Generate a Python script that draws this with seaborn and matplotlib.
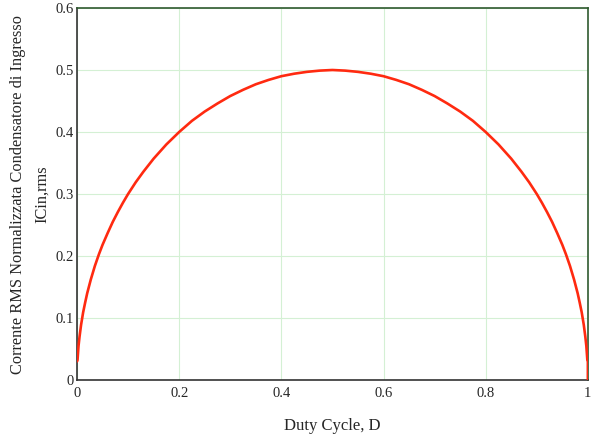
import matplotlib
matplotlib.use("Agg")
import matplotlib.pyplot as plt
import seaborn as sns
import pandas as pd

# values
duty = [0.0, 0.001, 0.003, 0.005, 0.008, 0.012, 0.016, 0.02, 0.027, 0.035, 0.043, 0.05,
        0.06, 0.07, 0.08, 0.09, 0.1, 0.115, 0.13, 0.15, 0.175, 0.2, 0.225, 0.25,
        0.275, 0.3, 0.325, 0.35, 0.375, 0.4, 0.425, 0.45, 0.475, 0.5, 0.525, 0.55,
        0.575, 0.6, 0.625, 0.65, 0.675, 0.7, 0.725, 0.75, 0.775, 0.8, 0.825, 0.85,
        0.87, 0.885, 0.9, 0.91, 0.92, 0.93, 0.94, 0.95, 0.957, 0.965, 0.973, 0.98,
        0.984, 0.988, 0.992, 0.995, 0.997, 0.999, 1.0, 1.0]
icin = [0.03, 0.032, 0.055, 0.07, 0.089, 0.109, 0.125, 0.14, 0.162, 0.184, 0.203, 0.218,
        0.237, 0.255, 0.271, 0.286, 0.3, 0.319, 0.336, 0.357, 0.38, 0.4, 0.418, 0.433,
        0.446, 0.458, 0.468, 0.477, 0.484, 0.49, 0.494, 0.497, 0.499, 0.5, 0.499, 0.497,
        0.494, 0.49, 0.484, 0.477, 0.468, 0.458, 0.446, 0.433, 0.418, 0.4, 0.38, 0.357,
        0.336, 0.319, 0.3, 0.286, 0.271, 0.255, 0.237, 0.218, 0.203, 0.184, 0.162, 0.14,
        0.125, 0.109, 0.089, 0.07, 0.055, 0.032, 0.03, 0.0]

xticks = [0, 0.2, 0.4, 0.6, 0.8, 1]
xtick_labels = ["0", "0.2", "0.4", "0.6", "0.8", "1"]
yticks = [0, 0.1, 0.2, 0.3, 0.4, 0.5, 0.6]
ytick_labels = ["0", "0.1", "0.2", "0.3", "0.4", "0.5", "0.6"]

df = pd.DataFrame({"D": duty, "I": icin})

sns.set_style("white")
plt.rcParams["font.family"] = ["Liberation Serif", "DejaVu Serif"]

fig = plt.figure(figsize=(5.95, 4.37), dpi=100)
ax = fig.add_axes([0.1294, 0.1304, 0.8586, 0.8513])

sns.lineplot(data=df, x="D", y="I", sort=False, color="#ff2a10", linewidth=1.9,
             ax=ax, estimator=None, zorder=3)

ax.set_xlim(0, 1)
ax.set_ylim(0, 0.6)
ax.set_xticks(xticks)
ax.set_xticklabels(xtick_labels, fontsize=10.5)
ax.set_yticks(yticks)
ax.set_yticklabels(ytick_labels, fontsize=10.5)
ax.tick_params(axis="y", length=0, pad=2)
ax.tick_params(axis="x", length=0, pad=5)
ax.grid(True, color="#d4f0d4", linewidth=0.8)

for side in ["top", "right"]:
    ax.spines[side].set_color("#2f5a2f")
for side in ["left", "bottom"]:
    ax.spines[side].set_color("#333333")
for s in ax.spines.values():
    s.set_linewidth(1.2)

ax.set_xlabel("Duty Cycle, D", fontsize=12, labelpad=13)
ax.set_ylabel("Corrente RMS Normalizzata Condensatore di Ingresso\nICin,rms",
              fontsize=11.8, labelpad=4, linespacing=1.7)

fig.savefig("out.png", dpi=100)
